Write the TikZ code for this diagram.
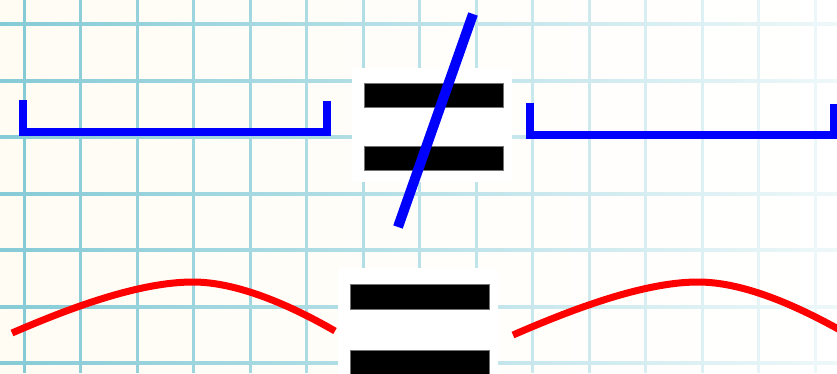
\documentclass[tikz,border=0pt]{standalone}
\definecolor{gridcol}{RGB}{45,165,185}
\definecolor{paper}{RGB}{255,252,244}
\tikzset{
	gridline/.style={line width=3pt},
	bracket/.style={draw=blue, line width=8pt},
	slash/.style={draw=blue, line width=10pt},
	wave/.style={draw=red, line width=7pt},
	bar/.style={fill=black, draw=black!55, line width=0.6pt},
	whitebox/.style={fill=white}
}
\begin{document}
\begin{tikzpicture}[x=1pt,y=-1pt]
			\useasboundingbox (0,0) rectangle (837,373);
			\clip (0,0) rectangle (837,373);
			\shade[left color=paper, right color=white] (0,0) rectangle (837,373);
			
			\foreach \i in {0,...,14}{
				\pgfmathsetmacro{\gx}{24+56.5*\i}
				\pgfmathtruncatemacro{\gs}{58-3.5*\i}
				\draw[gridline, gridcol!\gs] (\gx,0) -- (\gx,373);
			}
			\foreach \j in {0,...,6}
				\shade[left color=gridcol!58, right color=gridcol!8] (0,22.5+56.5*\j) rectangle (837,25.5+56.5*\j);
			
			\draw[bracket] (23,100) -- (23,132) -- (327,132) -- (327,101);
			\draw[bracket] (530,103) -- (530,135) -- (834,135) -- (834,104);
			
			\fill[whitebox] (352,68) rectangle (512,182);
			\filldraw[bar] (364,83) rectangle (503,107);
			\filldraw[bar] (364,146) rectangle (503,170);
			\draw[slash] (473,14) -- (398,227);
			
			\fill[whitebox] (338,268) rectangle (498,380);
			\filldraw[bar] (350,284) rectangle (489,309);
			\filldraw[bar] (350,350) rectangle (489,380);
			
			\draw[wave] (12,333) .. controls (72,307) and (140,282) .. (193,282)
				.. controls (237,282) and (290,305) .. (335,331);
			\draw[wave] (513,335) .. controls (575,308) and (645,282) .. (698,282)
				.. controls (743,282) and (795,305) .. (840,330);
		\end{tikzpicture}
\end{document}
